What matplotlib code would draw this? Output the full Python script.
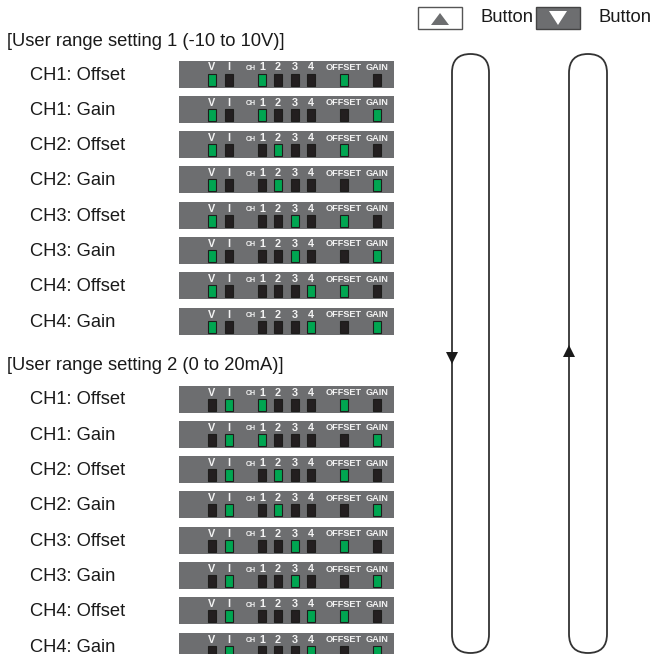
import matplotlib
matplotlib.use("Agg")
import matplotlib.pyplot as plt
from matplotlib.patches import Rectangle, FancyBboxPatch, Polygon

# ---- data ----
group_titles = ["[User range setting 1 (-10 to 10V)]", "[User range setting 2 (0 to 20mA)]"]
row_labels = ["CH1: Offset", "CH1: Gain", "CH2: Offset", "CH2: Gain",
              "CH3: Offset", "CH3: Gain", "CH4: Offset", "CH4: Gain"]
group_mode = ["V", "I"]                 # lit V/I LED per group
row_channel = [1, 1, 2, 2, 3, 3, 4, 4]  # lit CH LED per row
row_adjust = ["OFFSET", "GAIN", "OFFSET", "GAIN", "OFFSET", "GAIN", "OFFSET", "GAIN"]
led_names = ["V", "I", "1", "2", "3", "4", "OFFSET", "GAIN"]
legend_labels = ["Button", "Button"]

# ---- layout ----
W, H = 650, 654
fig = plt.figure(figsize=(W / 100, H / 100), dpi=100)
ax = fig.add_axes([0, 0, 1, 1])
ax.set_xlim(0, W)
ax.set_ylim(H, 0)
ax.axis("off")

FONT = ["Liberation Sans", "DejaVu Sans"]
PANEL = "#6d6e70"
LED_OFF = "#231f20"
LED_ON = "#00a651"
TXT = "#1a1a1a"
FS = 13.2

group_y0 = [75, 400]
row_step = 35.3
panel_x0, panel_x1 = 179, 394
panel_h = 27
led_x = {"V": 212, "I": 229, "1": 262, "2": 278, "3": 295, "4": 311, "OFFSET": 344, "GAIN": 377}
head_y = [42, 366]

lab_font = dict(family=["Liberation Sans", "DejaVu Sans"], fontweight="bold",
                color="#f4f4f4", fontsize=7.4, ha="center", va="center")

for g in range(2):
    ax.text(7, head_y[g], group_titles[g], fontsize=FS, family=FONT, color=TXT,
            va="center", ha="left")
    for r, lab in enumerate(row_labels):
        yc = group_y0[g] + r * row_step
        ax.text(30, yc, lab, fontsize=FS, family=FONT, color=TXT, va="center", ha="left")
        ytop = yc - panel_h / 2 - 1
        ax.add_patch(Rectangle((panel_x0, ytop), panel_x1 - panel_x0, panel_h,
                               facecolor=PANEL, edgecolor="none"))
        ly = ytop + 7
        for name in led_names:
            fs = 6.6 if len(name) > 1 else 7.8
            ax.text(led_x[name], ly, name, **{**lab_font, "fontsize": fs})
        ax.text(251, ly + 1, "CH", **{**lab_font, "fontsize": 5})
        lit = {group_mode[g], str(row_channel[r]), row_adjust[r]}
        for name in led_names:
            on = name in lit
            ax.add_patch(Rectangle((led_x[name] - 4, ytop + 13), 8, 12,
                                   facecolor=LED_ON if on else LED_OFF,
                                   edgecolor="#1d1d1b", linewidth=0.8))

# ---- loops ----
loop_lines = [(452, 489), (569, 607)]
for (xa, xb) in loop_lines:
    rr = (xb - xa) / 2
    ax.add_patch(FancyBboxPatch((xa, 54), xb - xa, 653 - 54,
                                boxstyle=f"round,pad=0,rounding_size={rr}",
                                facecolor="none", edgecolor="#333333", linewidth=1.3))
# arrows
ax.add_patch(Polygon([[446, 352], [458, 352], [452, 364]], closed=True, facecolor="#1a1a1a"))
ax.add_patch(Polygon([[563, 357], [575, 357], [569, 345]], closed=True, facecolor="#1a1a1a"))

# ---- legend ----
ax.add_patch(Rectangle((418, 7), 44, 22, facecolor="white", edgecolor="#555555", linewidth=1))
ax.add_patch(Polygon([[431, 25], [449, 25], [440, 13]], closed=True, facecolor=PANEL))
ax.text(480, 18, legend_labels[0], fontsize=FS, family=FONT, color=TXT, va="center")
ax.add_patch(Rectangle((536, 7), 44, 22, facecolor=PANEL, edgecolor="#444444", linewidth=1))
ax.add_patch(Polygon([[549, 11], [567, 11], [558, 25]], closed=True, facecolor="white"))
ax.text(598, 18, legend_labels[1], fontsize=FS, family=FONT, color=TXT, va="center")

fig.savefig("out.png", dpi=100)
